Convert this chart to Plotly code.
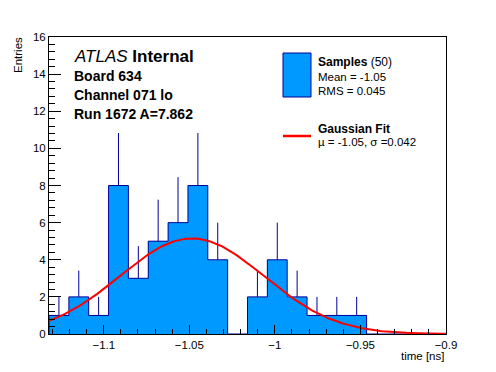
import numpy as np
import plotly.graph_objects as go

# ---- data ----
x_min = -1.132
x_max = -0.9
n_bins = 20
counts = [1, 2, 1, 8, 3, 5, 6, 8, 4, 0, 2, 4, 2, 1, 1, 1, 0, 0, 0, 0]
fit_amplitude = 5.15
fit_mu = -1.0485
fit_sigma = 0.042
x_tickvals = [-1.1, -1.05, -1.0, -0.95, -0.9]
x_ticktext = ["\u22121.1", "\u22121.05", "\u22121", "\u22120.95", "\u22120.9"]

FILL = "rgb(0,153,255)"
NAVY = "rgb(0,0,153)"
RED = "rgb(255,0,0)"
FONT = "Liberation Sans, Arial, Helvetica, sans-serif"

# page is 496x372; the browser body adds an 8px margin, so the figure is 488x364
OFF = 8
W, H = 496 - OFF, 372 - OFF
L, R, T, B = 49 - OFF, 50, 37 - OFF, 38
PW, PH = W - L - R, H - T - B


def px(x):  # page pixel -> paper
    return (x - OFF - L) / PW


def py(y):
    return (H - B - (y - OFF)) / PH


bin_w = (x_max - x_min) / n_bins
edges = [x_min + i * bin_w for i in range(n_bins + 1)]
centers = [(edges[i] + edges[i + 1]) / 2 for i in range(n_bins)]
errs = [float(np.sqrt(c)) for c in counts]

fig = go.Figure()
fig.add_trace(go.Bar(x=centers, y=counts, width=bin_w,
                     marker=dict(color=FILL, line=dict(width=0)),
                     hoverinfo="skip"))
fig.add_trace(go.Scatter(x=[edges[0]] + edges,
                         y=[0] + counts + [counts[-1]],
                         mode="lines", line=dict(color=NAVY, width=1, shape="hv"),
                         hoverinfo="skip"))
fig.add_trace(go.Scatter(x=centers, y=counts, mode="markers",
                         marker=dict(size=1, color="rgba(0,0,0,0)"),
                         error_y=dict(type="data", symmetric=False, array=errs,
                                      arrayminus=[0] * n_bins, width=0,
                                      color=NAVY, thickness=1),
                         hoverinfo="skip"))
gx = np.linspace(x_min, x_max, 200)
gy = fit_amplitude * np.exp(-0.5 * ((gx - fit_mu) / fit_sigma) ** 2)
fig.add_trace(go.Scatter(x=gx, y=gy, mode="lines",
                         line=dict(color=RED, width=2), hoverinfo="skip"))

ann = []


def text(x, y, s, size, xanchor="left", yanchor="middle", angle=0):
    ann.append(dict(x=px(x), y=py(y), xref="paper", yref="paper", text=s,
                    showarrow=False, xanchor=xanchor, yanchor=yanchor,
                    textangle=angle, font=dict(family=FONT, size=size, color="black")))


text(72, 56, "<i>ATLAS</i> <b>Internal</b>", 17)
text(72, 76, "<b>Board 634</b>", 14)
text(72, 95, "<b>Channel 071 lo</b>", 14)
text(72, 114, "<b>Run 1672 A=7.862</b>", 14)
text(316, 62, "<b>Samples</b> (50)", 12)
text(316, 77, "Mean = -1.05", 11.5)
text(316, 91, "RMS = 0.045", 11.5)
text(316, 129, "<b>Gaussian Fit</b>", 12)
text(316, 142, "\u00b5 = -1.05, \u03c3 =0.042", 11.5)
text(446, 356, "time [ns]", 11.5, xanchor="right")
text(18, 35, "Entries", 11.5, xanchor="center", yanchor="top", angle=-90)

shapes = [
    dict(type="rect", xref="paper", yref="paper", x0=px(283), x1=px(311),
         y0=py(97), y1=py(53), fillcolor=FILL, line=dict(color=NAVY, width=1)),
    dict(type="line", xref="paper", yref="paper", x0=px(283), x1=px(311),
         y0=py(136), y1=py(136), line=dict(color=RED, width=2.5)),
]

fig.update_layout(
    width=W, height=H, margin=dict(l=L, r=R, t=T, b=B),
    paper_bgcolor="white", plot_bgcolor="white",
    showlegend=False, bargap=0, hovermode=False,
    font=dict(family=FONT, size=11, color="black"),
    annotations=ann, shapes=shapes,
    xaxis=dict(range=[x_min, x_max], showgrid=False, zeroline=False,
               showline=True, linecolor="black", linewidth=1, mirror=True,
               ticks="inside", ticklen=9, tickcolor="black", tickwidth=1,
               tickmode="array", tickvals=x_tickvals, ticktext=x_ticktext,
               tickfont=dict(family=FONT, size=11.5, color="black"),
               minor=dict(ticks="inside", ticklen=5, tickcolor="black",
                          tickmode="linear", tick0=-1.1, dtick=0.01, showgrid=False)),
    yaxis=dict(range=[0, 16], showgrid=False, zeroline=False,
               showline=True, linecolor="black", linewidth=1, mirror=True,
               ticks="inside", ticklen=12, tickcolor="black", tickwidth=1,
               tickmode="linear", tick0=0, dtick=2,
               tickfont=dict(family=FONT, size=11.5, color="black"),
               minor=dict(ticks="inside", ticklen=6, tickcolor="black",
                          tickmode="linear", tick0=0, dtick=0.4, showgrid=False)),
)

fig.write_html("out.html")
